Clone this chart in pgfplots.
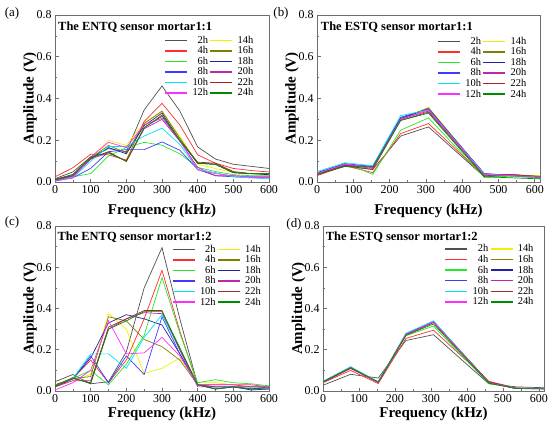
\documentclass[border=0pt]{standalone}
\usepackage{pgfplots}
\pgfplotsset{compat=1.18}
\usepackage{pgfplotstable}
\usepackage{fontspec}
\setmainfont{Liberation Serif}

\definecolor{c2}{RGB}{80,80,80}
\definecolor{c4}{RGB}{255,45,45}
\definecolor{c6}{RGB}{40,230,40}
\definecolor{c8}{RGB}{60,60,255}
\definecolor{c10}{RGB}{0,230,240}
\definecolor{c12}{RGB}{255,45,255}
\definecolor{c14}{RGB}{240,240,0}
\definecolor{c16}{RGB}{128,128,0}
\definecolor{c18}{RGB}{35,35,160}
\definecolor{c20}{RGB}{190,40,170}
\definecolor{c22}{RGB}{160,40,40}
\definecolor{c24}{RGB}{0,140,0}
\definecolor{axgray}{RGB}{110,110,110}

\pgfplotstableread{
f h2 h4 h6 h8 h10 h12 h14 h16 h18 h20 h22 h24
0   0.016 0.025 0.010 0.005 0.005 0.005 0.010 0.012 0.010 0.008 0.012 0.012
50  0.048 0.068 0.025 0.020 0.020 0.020 0.030 0.035 0.030 0.028 0.035 0.035
100 0.120 0.133 0.040 0.065 0.100 0.120 0.115 0.115 0.110 0.110 0.115 0.120
150 0.160 0.130 0.125 0.145 0.170 0.190 0.200 0.175 0.165 0.140 0.145 0.140
200 0.145 0.105 0.165 0.155 0.170 0.165 0.175 0.140 0.135 0.100 0.098 0.100
250 0.345 0.290 0.190 0.155 0.220 0.275 0.285 0.280 0.270 0.255 0.260 0.260
300 0.460 0.377 0.176 0.192 0.258 0.305 0.335 0.340 0.330 0.300 0.320 0.315
350 0.340 0.273 0.135 0.152 0.180 0.200 0.220 0.210 0.200 0.195 0.200 0.200
400 0.168 0.130 0.070 0.060 0.060 0.058 0.085 0.090 0.090 0.070 0.095 0.090
450 0.110 0.090 0.050 0.030 0.045 0.040 0.065 0.085 0.085 0.030 0.090 0.085
500 0.085 0.065 0.035 0.025 0.025 0.030 0.045 0.045 0.045 0.030 0.050 0.045
550 0.075 0.055 0.030 0.020 0.020 0.025 0.040 0.040 0.040 0.025 0.040 0.040
600 0.065 0.048 0.030 0.020 0.015 0.020 0.035 0.038 0.035 0.025 0.040 0.040
}\tabA

\pgfplotstableread{
f h2 h4 h6 h8 h10 h12 h14 h16 h18 h20 h22 h24
0     0.035 0.030 0.040 0.045 0.050 0.040 0.045 0.040 0.040 0.040 0.038 0.035
76.8  0.075 0.078 0.090 0.088 0.092 0.085 0.085 0.080 0.080 0.082 0.078 0.075
153.6 0.060 0.045 0.037 0.075 0.078 0.070 0.075 0.070 0.075 0.065 0.060 0.072
230.4 0.220 0.232 0.248 0.310 0.318 0.300 0.305 0.300 0.305 0.300 0.295 0.295
307.2 0.264 0.280 0.307 0.350 0.345 0.345 0.358 0.355 0.350 0.340 0.335 0.330
460.8 0.025 0.028 0.022 0.040 0.038 0.035 0.038 0.035 0.040 0.035 0.030 0.025
537.6 0.030 0.035 0.028 0.032 0.030 0.030 0.035 0.035 0.030 0.035 0.035 0.020
614.4 0.020 0.025 0.018 0.025 0.025 0.025 0.030 0.028 0.025 0.025 0.025 0.015
}\tabB

\pgfplotstableread{
f h2 h4 h6 h8 h10 h12 h14 h16 h18 h20 h22 h24
0   0.045 0.030 0.020 0.020 0.020 0.005 0.020 0.030 0.020 0.020 0.020 0.025
50  0.080 0.060 0.060 0.060 0.060 0.040 0.050 0.060 0.060 0.050 0.060 0.065
100 0.035 0.150 0.100 0.170 0.180 0.100 0.080 0.070 0.160 0.050 0.040 0.035
150 0.045 0.040 0.030 0.040 0.180 0.340 0.375 0.360 0.330 0.300 0.310 0.300
200 0.190 0.150 0.130 0.170 0.110 0.180 0.300 0.340 0.370 0.350 0.350 0.340
250 0.500 0.350 0.270 0.080 0.260 0.185 0.085 0.250 0.350 0.380 0.390 0.385
300 0.695 0.585 0.550 0.360 0.370 0.260 0.110 0.215 0.320 0.375 0.390 0.385
350 0.350 0.290 0.280 0.180 0.200 0.170 0.160 0.150 0.180 0.200 0.200 0.210
400 0.030 0.030 0.040 0.030 0.030 0.030 0.040 0.030 0.030 0.020 0.030 0.030
450 0.010 0.030 0.055 0.020 0.020 0.030 0.040 0.020 0.010 0.020 0.020 0.010
500 0.020 0.030 0.040 0.020 0.020 0.030 0.030 0.020 0.020 0.020 0.020 0.020
550 0.010 0.020 0.035 0.010 0.020 0.030 0.030 0.020 0.005 0.020 0.020 0.010
600 0.020 0.020 0.025 0.010 0.020 0.020 0.020 0.020 0.010 0.020 0.020 0.015
}\tabC

\pgfplotstableread{
f h2 h4 h6 h8 h10 h12 h14 h16 h18 h20 h22 h24
0     0.028 0.040 0.042 0.045 0.047 0.045 0.045 0.044 0.044 0.044 0.043 0.045
76.8  0.081 0.100 0.112 0.115 0.118 0.114 0.113 0.112 0.112 0.110 0.110 0.113
153.6 0.063 0.036 0.042 0.043 0.044 0.042 0.043 0.043 0.043 0.042 0.042 0.044
230.4 0.245 0.255 0.268 0.275 0.280 0.275 0.276 0.275 0.276 0.272 0.272 0.270
307.2 0.273 0.295 0.315 0.338 0.340 0.335 0.336 0.335 0.335 0.333 0.332 0.325
460.8 0.035 0.047 0.036 0.040 0.042 0.040 0.045 0.044 0.042 0.043 0.044 0.038
537.6 0.020 0.015 0.013 0.012 0.014 0.012 0.013 0.012 0.012 0.013 0.012 0.012
614.4 0.016 0.012 0.010 0.012 0.013 0.012 0.012 0.011 0.012 0.012 0.012 0.010
}\tabD

\newcommand{\allseries}[1]{%
  \addplot[c2]  table[x=f,y=h2]{#1};  \addlegendentry{2h}
  \addplot[c14] table[x=f,y=h14]{#1}; \addlegendentry{14h}
  \addplot[c4]  table[x=f,y=h4]{#1};  \addlegendentry{4h}
  \addplot[c16] table[x=f,y=h16]{#1}; \addlegendentry{16h}
  \addplot[c6]  table[x=f,y=h6]{#1};  \addlegendentry{6h}
  \addplot[c18] table[x=f,y=h18]{#1}; \addlegendentry{18h}
  \addplot[c8]  table[x=f,y=h8]{#1};  \addlegendentry{8h}
  \addplot[c20] table[x=f,y=h20]{#1}; \addlegendentry{20h}
  \addplot[c10] table[x=f,y=h10]{#1}; \addlegendentry{10h}
  \addplot[c22] table[x=f,y=h22]{#1}; \addlegendentry{22h}
  \addplot[c12] table[x=f,y=h12]{#1}; \addlegendentry{12h}
  \addplot[c24] table[x=f,y=h24]{#1}; \addlegendentry{24h}
}

\pgfplotsset{
  panel/.style={
    scale only axis,
    xmin=0, ymin=0, ymax=0.8,
    xtick={0,100,...,600},
    ytick={0,0.2,0.4,0.6,0.8},
    minor x tick num=1, minor y tick num=1,
    tick align=inside,
    xtick pos=bottom, ytick pos=left,
    major tick length=3.5bp, minor tick length=2bp,
    tick style={axgray, line width=0.6pt},
    axis line style={axgray, line width=0.8pt},
    /pgf/number format/assume math mode=true,
    tick label style={font=\fontsize{12}{12}\selectfont},
    yticklabel style={/pgf/number format/fixed, /pgf/number format/fixed zerofill, /pgf/number format/precision=1},
    scaled y ticks=false,
    xlabel={Frequency (kHz)},
    ylabel={Amplitude (V)},
    label style={font=\bfseries\fontsize{15}{15}\selectfont},
    every axis plot/.append style={line width=0.7pt, mark=none},
    legend columns=2,
    legend cell align=right,
    legend image code/.code={\draw[##1, line width=1.5pt] (0bp,0bp) -- (22bp,0bp);},
    legend style={draw=none, fill=none, font=\fontsize{10.5}{11}\selectfont,
      inner sep=0pt, row sep=-1.2bp,
      /tikz/every odd column/.append style={column sep=3bp},
      nodes={inner sep=1.5bp}},
  }
}

\begin{document}
\begin{tikzpicture}[x=1bp,y=1bp]
\path[use as bounding box] (0,0) rectangle (550,429);

% (a)
\begin{axis}[panel, at={(55bp,247bp)}, anchor=south west, width=214bp, height=167bp,
  xmax=600,
  ylabel style={at={(axis description cs:-0.117,0.5)}, anchor=center},
  xlabel style={at={(axis description cs:0.5,-0.174)}, anchor=center},
  legend style={at={(0.935,0.885)}, anchor=north east}]
\allseries{\tabA}
\node[anchor=west, font=\bfseries\fontsize{12.5}{13}\selectfont, inner sep=0pt] at (rel axis cs:0.014,0.93) {The ENTQ sensor mortar1:1};
\end{axis}

% (b)
\begin{axis}[panel, at={(317bp,247bp)}, anchor=south west, width=223bp, height=167bp,
  xmax=614.4,
  ylabel style={at={(axis description cs:-0.112,0.5)}, anchor=center},
  xlabel style={at={(axis description cs:0.5,-0.174)}, anchor=center},
  legend style={at={(0.946,0.878)}, anchor=north east}]
\allseries{\tabB}
\node[anchor=west, font=\bfseries\fontsize{12.5}{13}\selectfont, inner sep=0pt] at (rel axis cs:0.017,0.93) {The ESTQ sensor mortar1:1};
\end{axis}

% (c)
\begin{axis}[panel, at={(55bp,38bp)}, anchor=south west, width=214bp, height=165bp,
  xmax=600,
  ylabel style={at={(axis description cs:-0.117,0.5)}, anchor=center},
  xlabel style={at={(axis description cs:0.5,-0.14)}, anchor=center},
  legend style={at={(0.97,0.895)}, anchor=north east}]
\allseries{\tabC}
\node[anchor=west, font=\bfseries\fontsize{12.5}{13}\selectfont, inner sep=0pt] at (rel axis cs:0.011,0.93) {The ENTQ sensor mortar1:2};
\end{axis}

% (d)
\begin{axis}[panel, at={(323bp,38bp)}, anchor=south west, width=221bp, height=165bp,
  xmax=614.4,
  ylabel style={at={(axis description cs:-0.111,0.5)}, anchor=center},
  xlabel style={at={(axis description cs:0.5,-0.14)}, anchor=center},
  legend style={at={(0.96,0.897)}, anchor=north east}]
\allseries{\tabD}
\node[anchor=west, font=\bfseries\fontsize{12.5}{13}\selectfont, inner sep=0pt] at (rel axis cs:0.012,0.93) {The ESTQ sensor mortar1:2};
\end{axis}

\node[font=\fontsize{13}{13}\selectfont] at (12,416) {(a)};
\node[font=\fontsize{13}{13}\selectfont] at (281,416) {(b)};
\node[font=\fontsize{13}{13}\selectfont] at (12,207) {(c)};
\node[font=\fontsize{13}{13}\selectfont] at (294,205) {(d)};
\end{tikzpicture}
\end{document}
